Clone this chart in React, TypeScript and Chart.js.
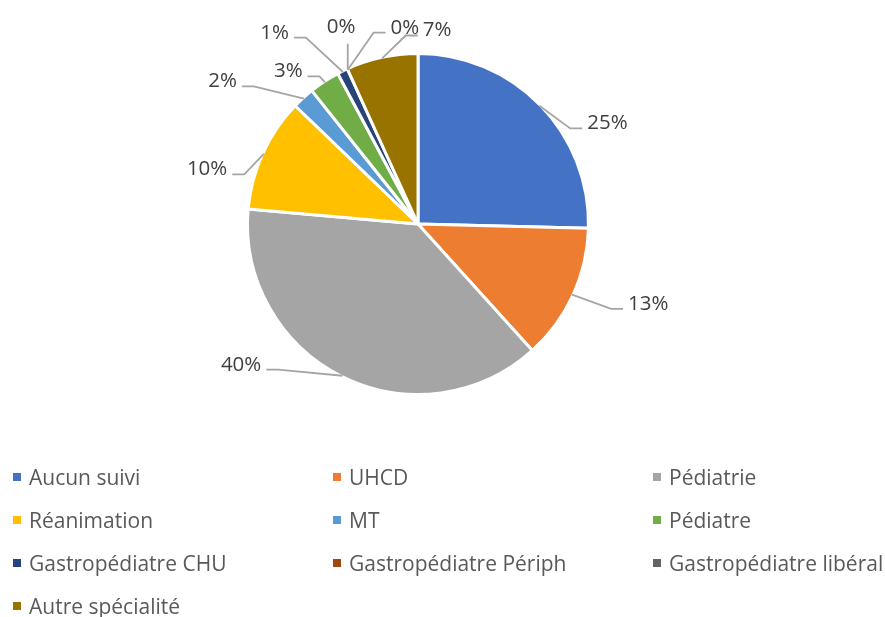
import React, { useEffect, useRef } from "react";
import { Chart, registerables } from "chart.js";

Chart.register(...registerables);

const categories = [
  "Aucun suivi",
  "UHCD",
  "Pédiatrie",
  "Réanimation",
  "MT",
  "Pédiatre",
  "Gastropédiatre CHU",
  "Gastropédiatre Périph",
  "Gastropédiatre libéral",
  "Autre spécialité",
];
// slice sizes (% of the circle)
const shares = [25.4, 12.9, 38.1, 10.8, 2.1, 2.9, 1.0, 0, 0, 6.8];
// printed data labels
const shareLabels = ["25%", "13%", "40%", "10%", "2%", "3%", "1%", "0%", "0%", "7%"];
const colors = [
  "#4472C4",
  "#ED7D31",
  "#A5A5A5",
  "#FFC000",
  "#5B9BD5",
  "#70AD47",
  "#264478",
  "#9E480E",
  "#636363",
  "#997300",
];
// label text placement: [angle clockwise from 12 o'clock (deg), distance / radius]
const labelPlacement: [number, number][] = [
  [61.8, 1.268],
  [108.9, 1.436],
  [231.7, 1.33],
  [284.8, 1.287],
  [306.3, 1.431],
  [319.8, 1.186],
  [323.3, 1.416],
  [338.8, 1.255],
  [356.2, 1.167],
  [5.6, 1.153],
];

const FONT = '"Open Sans", "Noto Sans", sans-serif';

const leaderLabels = {
  id: "leaderLabels",
  afterDatasetsDraw(chart: any) {
    const ctx = chart.ctx as CanvasRenderingContext2D;
    const meta = chart.getDatasetMeta(0);
    ctx.save();
    ctx.font = `20.5px ${FONT}`;
    meta.data.forEach((arc: any, i: number) => {
      const { x, y, startAngle, endAngle, outerRadius } = arc.getProps(
        ["x", "y", "startAngle", "endAngle", "outerRadius"],
        true
      );
      const mid = (startAngle + endAngle) / 2;
      const R = outerRadius - 1;
      const ex = x + Math.cos(mid) * R;
      const ey = y + Math.sin(mid) * R;
      const [deg, f] = labelPlacement[i];
      const a = ((deg - 90) * Math.PI) / 180;
      const tx = x + Math.cos(a) * R * f;
      const ty = y + Math.sin(a) * R * f;
      const text = shareLabels[i];
      const w = ctx.measureText(text).width;

      ctx.strokeStyle = "#A5A5A5";
      ctx.lineWidth = 1.8;
      ctx.beginPath();
      ctx.moveTo(ex, ey);
      if (Math.abs(tx - ex) < w / 2 + 2) {
        ctx.lineTo(ex, ty + 18);
      } else if (tx > ex) {
        const endX = tx - w / 2 - 5;
        ctx.lineTo(endX - 12, ty + 6);
        ctx.lineTo(endX, ty + 6);
      } else {
        const endX = tx + w / 2 + 5;
        ctx.lineTo(endX + 12, ty + 6);
        ctx.lineTo(endX, ty + 6);
      }
      ctx.stroke();

      ctx.fillStyle = "#404040";
      ctx.textAlign = "center";
      ctx.textBaseline = "alphabetic";
      ctx.fillText(text, tx, ty + 7);
    });
    ctx.restore();
  },
};

export default function App() {
  const canvasRef = useRef<HTMLCanvasElement | null>(null);

  useEffect(() => {
    if (!canvasRef.current) return;
    const chart = new Chart(canvasRef.current, {
      type: "pie",
      data: {
        labels: categories,
        datasets: [
          {
            data: shares,
            backgroundColor: colors,
            borderColor: "#FFFFFF",
            borderWidth: 3,
          },
        ],
      },
      options: {
        responsive: false,
        animation: false,
        devicePixelRatio: 1,
        layout: { padding: { left: 246, right: 295, top: 52, bottom: 221 } },
        plugins: {
          legend: { display: false },
          tooltip: { enabled: false },
        },
      },
      plugins: [leaderLabels],
    });
    return () => chart.destroy();
  }, []);

  return (
    <div
      style={{
        position: "absolute",
        left: 0,
        top: 0,
        width: 885,
        height: 617,
        background: "#FFFFFF",
        fontFamily: FONT,
        overflow: "hidden",
      }}
    >
      <canvas
        ref={canvasRef}
        width={885}
        height={617}
        style={{ position: "absolute", left: 0, top: 0, width: 885, height: 617 }}
      />
      {categories.map((c, i) => {
        const col = i % 3;
        const row = Math.floor(i / 3);
        return (
          <div
            key={c}
            style={{
              position: "absolute",
              left: 13 + col * 320,
              top: 464.5 + row * 43.2,
              height: 24,
              display: "flex",
              alignItems: "center",
              fontSize: 21,
              lineHeight: "24px",
              color: "#595959",
              whiteSpace: "nowrap",
            }}
          >
            <span
              style={{
                display: "inline-block",
                width: 8,
                height: 8,
                background: colors[i],
                marginRight: 8,
              }}
            />
            {c}
          </div>
        );
      })}
    </div>
  );
}
